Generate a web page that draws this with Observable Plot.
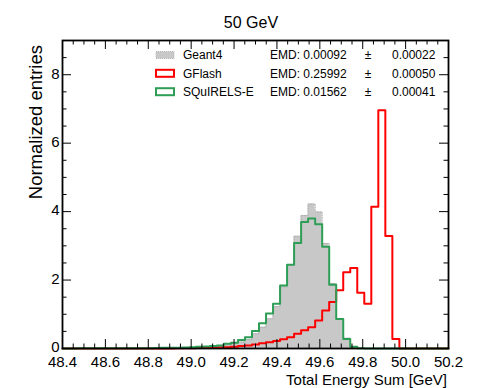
<!DOCTYPE html>
<html>
<head>
<meta charset="utf-8">
<script src="https://cdn.jsdelivr.net/npm/d3@7"></script>
<script src="https://cdn.jsdelivr.net/npm/@observablehq/plot@0.6"></script>
<style>
  html, body { margin: 0; padding: 0; background: #fff; }
  #wrap { position: relative; width: 498px; height: 388px; overflow: hidden; font-family: "Liberation Sans", Arial, Helvetica, sans-serif; }
  #chart { position: absolute; left: 0; top: 0; }
  #overlay { position: absolute; left: 0; top: 0; pointer-events: none; }
</style>
</head>
<body>
<div id="wrap"><div id="chart"></div><svg id="overlay" width="498" height="388"></svg></div>
<script>
// ---- data ----
const title = "50 GeV";
const xLabel = "Total Energy Sum [GeV]";
const yLabel = "Normalized entries";
const binStart = 48.4, binEnd = 50.2, nBins = 55;

const geant4 = [
  0, 0, 0, 0, 0, 0, 0, 0, 0, 0,
  0.005, 0.01, 0.01, 0.01, 0.015, 0.02, 0.02, 0.025, 0.03, 0.04,
  0.04, 0.05, 0.06, 0.10, 0.14, 0.19, 0.26, 0.43, 0.62, 0.87,
  1.23, 1.80, 2.45, 3.28, 3.89, 4.22, 3.99, 3.07, 1.90, 0.88,
  0.30, 0.06, 0.01, 0, 0, 0, 0, 0, 0, 0,
  0, 0, 0, 0, 0
];
const gflash = [
  0, 0, 0, 0, 0, 0, 0, 0, 0, 0,
  0, 0, 0, 0, 0, 0, 0.005, 0.01, 0.01, 0.015,
  0.02, 0.02, 0.03, 0.04, 0.05, 0.07, 0.09, 0.12, 0.15, 0.18,
  0.22, 0.27, 0.33, 0.43, 0.53, 0.62, 0.82, 1.11, 1.36, 1.70,
  2.23, 2.35, 1.63, 1.31, 4.14, 6.96, 3.29, 0.28, 0, 0,
  0, 0, 0, 0, 0
];
const squirels = [
  0, 0, 0.005, 0.005, 0.005, 0.005, 0.005, 0.005, 0.005, 0.005,
  0.01, 0.01, 0.01, 0.015, 0.02, 0.02, 0.025, 0.03, 0.04, 0.05,
  0.06, 0.07, 0.09, 0.14, 0.17, 0.25, 0.33, 0.51, 0.74, 1.02,
  1.31, 1.84, 2.45, 3.08, 3.70, 3.80, 3.63, 2.97, 1.86, 0.86,
  0.28, 0.05, 0.01, 0, 0, 0, 0, 0, 0, 0,
  0, 0, 0, 0, 0
];

const xMajor = [48.4, 48.6, 48.8, 49.0, 49.2, 49.4, 49.6, 49.8, 50.0, 50.2];
const yMajor = [0, 2, 4, 6, 8];
const legendNames = ["Geant4", "GFlash", "SQuIRELS-E"];
const emdValues = ["0.00092", "0.25992", "0.01562"];
const emdErrors = ["0.00022", "0.00050", "0.00041"];

// ---- styles ----
const colGray = "#c8c8c8";
const colRed = "#ff0000";
const colGreen = "#2e9e57";

// ---- derived tables ----
const edges = d3.range(nBins + 1).map(i => binStart + i * (binEnd - binStart) / nBins);
function stepPoints(vals) {
  const pts = [{x: edges[0], y: 0}];
  vals.forEach((v, i) => pts.push({x: edges[i], y: v}));
  pts.push({x: edges[nBins], y: 0});
  return pts;
}
const xMinor = d3.range(0, 37).map(i => +(48.4 + i * 0.05).toFixed(2)).filter(v => !xMajor.some(m => Math.abs(m - v) < 1e-6));
const yMinor = d3.range(0, 19).map(i => i * 0.5).filter(v => !yMajor.includes(v));

const W = 498, H = 388, mL = 62, mR = 50, mT = 40, mB = 40;
const innerW = W - mL - mR, innerH = H - mT - mB;
const majLen = 9, minLen = 4.5;

const chart = Plot.plot({
  width: W, height: H,
  marginLeft: mL, marginRight: mR, marginTop: mT, marginBottom: mB,
  style: {fontFamily: "Liberation Sans, Arial, Helvetica, sans-serif", fontSize: "15px", background: "white", color: "black"},
  x: {domain: [binStart, binEnd], label: null},
  y: {domain: [0, 9], label: null},
  marks: [
    Plot.areaY(stepPoints(geant4), {x: "x", y: "y", curve: "step-after", fill: colGray}),
    Plot.line(stepPoints(geant4), {x: "x", y: "y", curve: "step-after", stroke: "#adadad", strokeWidth: 1, strokeDasharray: "1,1.5"}),
    Plot.line(stepPoints(gflash), {x: "x", y: "y", curve: "step-after", stroke: colRed, strokeWidth: 2}),
    Plot.line(stepPoints(squirels), {x: "x", y: "y", curve: "step-after", stroke: colGreen, strokeWidth: 2}),
    // inward ticks: bottom & top
    Plot.tickX(xMajor, {x: d => d, insetTop: innerH - majLen, stroke: "black"}),
    Plot.tickX(xMinor, {x: d => d, insetTop: innerH - minLen, stroke: "black"}),
    Plot.tickX(xMajor, {x: d => d, insetBottom: innerH - majLen, stroke: "black"}),
    Plot.tickX(xMinor, {x: d => d, insetBottom: innerH - minLen, stroke: "black"}),
    // inward ticks: left & right
    Plot.tickY(yMajor, {y: d => d, insetRight: innerW - majLen, stroke: "black"}),
    Plot.tickY(yMinor, {y: d => d, insetRight: innerW - minLen, stroke: "black"}),
    Plot.tickY(yMajor, {y: d => d, insetLeft: innerW - majLen, stroke: "black"}),
    Plot.tickY(yMinor, {y: d => d, insetLeft: innerW - minLen, stroke: "black"}),
    Plot.axisX({ticks: xMajor, tickSize: 0, tickPadding: 8, tickFormat: d => d.toFixed(1), fontSize: 15, label: null}),
    Plot.axisY({ticks: yMajor, tickSize: 0, tickPadding: 3, dy: -1, tickFormat: d => String(d), fontSize: 15, label: null}),
    Plot.frame({stroke: "black", strokeWidth: 1.8})
  ]
});
document.getElementById("chart").appendChild(chart);

// ---- overlay: title, axis titles, legend ----
const ov = d3.select("#overlay");
const ff = "Liberation Sans, Arial, Helvetica, sans-serif";
ov.append("text").attr("x", 251).attr("y", 28).attr("text-anchor", "middle")
  .attr("font-family", ff).attr("font-size", 16).text(title);
ov.append("text").attr("x", 447).attr("y", 385).attr("text-anchor", "end")
  .attr("font-family", ff).attr("font-size", 15).text(xLabel);
ov.append("text").attr("transform", "translate(42,45) rotate(-90)").attr("text-anchor", "end")
  .attr("font-family", ff).attr("font-size", 18.5).text(yLabel);

const rowY = [55, 73.3, 91.7];
const swatch = [
  {fill: colGray, stroke: "#b5b5b5", dash: "1,1", sw: 1},
  {fill: "white", stroke: colRed, dash: null, sw: 2},
  {fill: "white", stroke: colGreen, dash: null, sw: 2}
];
legendNames.forEach((name, i) => {
  const cy = rowY[i];
  const s = swatch[i];
  ov.append("rect").attr("x", 156).attr("y", cy - 3.5).attr("width", 18).attr("height", 7)
    .attr("fill", s.fill).attr("stroke", s.stroke).attr("stroke-width", s.sw)
    .attr("stroke-dasharray", s.dash);
  const g = ov.append("g").attr("font-family", ff).attr("font-size", 12);
  g.append("text").attr("x", 183).attr("y", cy + 4.3).text(name);
  g.append("text").attr("x", 270).attr("y", cy + 4.3).text("EMD: " + emdValues[i]);
  g.append("text").attr("x", 368).attr("y", cy + 4.3).attr("text-anchor", "middle").text("±");
  g.append("text").attr("x", 392).attr("y", cy + 4.3).text(emdErrors[i]);
});
</script>
</body>
</html>
